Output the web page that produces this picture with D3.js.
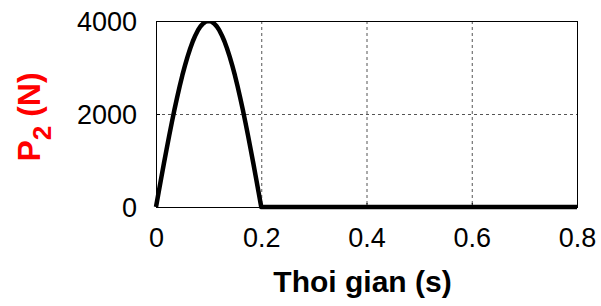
<!DOCTYPE html>
<html>
<head>
<meta charset="utf-8">
<script src="https://cdn.jsdelivr.net/npm/d3@7"></script>
<style>
  body { margin: 0; background: #fff; }
  text { font-family: "Liberation Sans", Arial, sans-serif; }
</style>
</head>
<body>
<div id="chart"></div>
<script>
// time samples (s) and force P2 (N)
var timeVals = [0, 0.005, 0.01, 0.015, 0.02, 0.025, 0.03, 0.035, 0.04, 0.045,
  0.05, 0.055, 0.06, 0.065, 0.07, 0.075, 0.08, 0.085, 0.09, 0.095,
  0.1, 0.105, 0.11, 0.115, 0.12, 0.125, 0.13, 0.135, 0.14, 0.145,
  0.15, 0.155, 0.16, 0.165, 0.17, 0.175, 0.18, 0.185, 0.19, 0.195,
  0.2, 0.4, 0.6, 0.8];
var forceVals = [0, 315, 625, 935, 1235, 1530, 1815, 2090, 2350, 2595,
  2830, 3040, 3235, 3410, 3565, 3695, 3805, 3890, 3950, 3990,
  4000, 3990, 3950, 3890, 3805, 3695, 3565, 3410, 3235, 3040,
  2830, 2595, 2350, 2090, 1815, 1530, 1235, 935, 625, 315,
  0, 0, 0, 0];
var xTicks = [0, 0.2, 0.4, 0.6, 0.8];
var yTicks = [0, 2000, 4000];

var W = 601, H = 306;
// plot box edges (named to avoid window.top)
var pL = 156, pR = 577, pT = 21, pB = 207;

var svg = d3.select("#chart").append("svg")
  .attr("width", W).attr("height", H);

var x = d3.scaleLinear().domain([0, 0.8]).range([pL, pR]);
var y = d3.scaleLinear().domain([0, 4000]).range([pB, pT]);

// grid lines (dotted)
svg.append("g").selectAll("line")
  .data(xTicks.slice(1, -1)).enter().append("line")
  .attr("x1", function(d) { return x(d) + 0.5; }).attr("x2", function(d) { return x(d) + 0.5; })
  .attr("y1", pT).attr("y2", pB)
  .attr("stroke", "#555").attr("stroke-width", 1).attr("stroke-dasharray", "3,3");
svg.append("g").selectAll("line")
  .data(yTicks.slice(1, -1)).enter().append("line")
  .attr("x1", pL).attr("x2", pR)
  .attr("y1", function(d) { return y(d) + 0.5; }).attr("y2", function(d) { return y(d) + 0.5; })
  .attr("stroke", "#555").attr("stroke-width", 1).attr("stroke-dasharray", "3,3");

// axes with inward ticks
var xAxis = svg.append("g").attr("transform", "translate(0," + pB + ")")
  .call(d3.axisBottom(x).tickValues(xTicks).tickSizeInner(-4).tickSizeOuter(0)
    .tickFormat(function(d) { return d === 0 ? "0" : d3.format(".1f")(d); }));
xAxis.selectAll("text").attr("dy", null).attr("y", 40)
  .style("font-size", "27px").attr("fill", "#000");
var yAxis = svg.append("g").attr("transform", "translate(" + pL + ",0)")
  .call(d3.axisLeft(y).tickValues(yTicks).tickSizeInner(-4).tickSizeOuter(0)
    .tickFormat(d3.format("d")));
yAxis.selectAll("text").attr("x", -19).attr("dy", "0.36em")
  .style("font-size", "27px").attr("fill", "#000");
svg.selectAll(".domain").remove();
svg.selectAll(".tick line").attr("stroke", "#000");

// box
svg.append("rect").attr("x", pL + 0.5).attr("y", pT + 0.5)
  .attr("width", pR - pL).attr("height", pB - pT)
  .attr("fill", "none").attr("stroke", "#000").attr("stroke-width", 1);

// curve
svg.append("clipPath").attr("id", "clip").append("rect")
  .attr("x", pL - 5).attr("y", pT).attr("width", pR - pL + 10).attr("height", pB - pT + 10);
var line = d3.line()
  .x(function(d, i) { return x(timeVals[i]); })
  .y(function(d) { return y(d); });
svg.append("path").datum(forceVals)
  .attr("clip-path", "url(#clip)")
  .attr("d", line)
  .attr("fill", "none").attr("stroke", "#000").attr("stroke-width", 4.5)
  .attr("stroke-linejoin", "round");

// labels
svg.append("text").attr("x", (pL + pR) / 2 - 4).attr("y", 292)
  .attr("text-anchor", "middle").style("font-size", "30px").style("font-weight", "bold")
  .text("Thoi gian (s)");

var yl = svg.append("text")
  .attr("transform", "translate(40,117) rotate(-90)")
  .attr("text-anchor", "middle").attr("fill", "#ff0000")
  .style("font-size", "32px").style("font-weight", "bold");
yl.append("tspan").text("P");
yl.append("tspan").attr("dy", 11).style("font-size", "26px").text("2");
yl.append("tspan").attr("dy", -11).text(" (N)");
</script>
</body>
</html>
